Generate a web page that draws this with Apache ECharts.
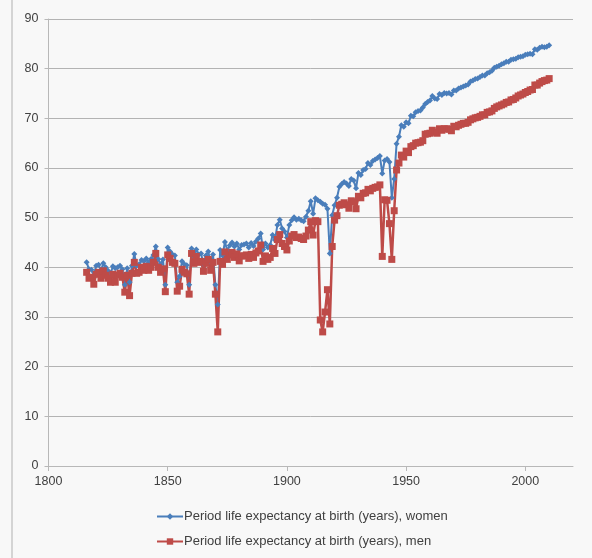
<!DOCTYPE html>
<html>
<head>
<meta charset="utf-8">
<script src="https://cdn.jsdelivr.net/npm/echarts@6/dist/echarts.min.js"></script>
<style>
html,body{margin:0;padding:0;background:#f8f8f8;}
#chart{width:592px;height:558px;}
</style>
</head>
<body>
<div id="chart"></div>
<script>
const startYear = 1816;
const womenValues = [
41.0,39.6,39.5,38.5,40.3,40.5,39.4,40.8,40.0,39.3,38.7,40.2,39.8,40.0,40.3,39.6,36.5,39.8,37.0,40.3,
42.7,40.3,40.6,41.5,41.2,41.8,41.0,41.7,42.5,44.2,41.7,40.6,41.6,36.5,44.0,43.2,42.6,42.4,37.0,38.2,
41.2,40.6,40.4,36.5,43.8,42.3,43.6,42.6,42.8,40.6,42.4,43.2,41.0,42.6,36.5,32.5,43.5,42.4,45.1,43.4,
44.4,45.0,44.2,44.8,43.6,44.5,44.6,44.8,44.0,44.9,44.3,45.2,45.8,46.8,43.6,44.8,44.0,44.5,46.5,45.5,
48.5,49.6,47.8,47.2,46.0,48.5,49.5,50.1,49.6,49.8,49.5,49.3,50.2,51.4,53.3,50.8,53.9,53.5,53.2,52.8,
52.6,51.8,42.8,50.5,52.5,54.0,56.2,56.8,57.2,56.9,56.4,57.8,57.5,55.9,59.0,58.6,59.6,59.8,61.0,60.6,
61.4,61.7,62.0,62.4,58.9,61.5,61.8,61.2,54.0,57.8,64.9,66.3,68.6,68.3,69.2,69.0,70.5,70.4,71.2,71.5,
71.6,72.2,72.9,73.3,73.6,74.5,74.0,73.9,74.9,74.7,75.1,75.0,75.1,74.8,75.6,75.6,76.0,76.2,76.4,76.6,
76.8,77.4,77.6,77.9,78.0,78.3,78.6,78.6,79.1,79.3,79.6,80.2,80.4,80.6,80.9,81.1,81.4,81.4,81.8,81.9,
82.0,82.3,82.4,82.5,82.8,82.9,83.0,82.9,83.9,83.8,84.2,84.4,84.3,84.4,84.7
];
const menValues = [
39.0,37.8,38.0,36.6,38.6,39.0,37.8,39.3,38.4,37.8,37.0,38.6,37.0,38.4,38.8,38.0,35.0,38.4,34.3,38.8,
41.0,38.8,39.0,40.0,39.4,40.2,39.4,40.0,41.0,42.8,40.0,39.0,39.7,35.1,42.5,41.8,41.0,40.8,35.2,36.2,
39.6,39.0,38.7,34.6,42.8,40.8,42.2,41.0,41.2,39.2,40.8,41.6,39.4,41.0,34.6,27.0,41.2,40.6,43.1,41.6,
42.5,43.0,42.0,42.7,41.3,42.3,42.3,42.5,41.8,42.6,42.0,42.9,43.3,44.5,41.2,42.3,41.6,42.0,43.8,42.8,
45.6,46.6,44.8,44.2,43.5,45.3,46.3,46.6,46.0,46.1,45.8,45.6,46.3,47.5,49.2,46.5,49.4,49.2,29.4,27.0,
31.0,35.5,28.6,44.2,49.5,50.4,52.5,52.7,53.0,52.6,51.9,53.4,53.2,51.8,54.3,54.0,54.9,55.0,55.7,55.4,
55.9,56.1,56.2,56.6,42.2,53.6,53.5,48.8,41.6,51.4,59.6,61.0,62.6,62.2,63.4,63.1,64.3,64.5,65.0,65.1,
65.2,65.5,66.8,66.9,67.0,67.6,67.2,67.0,67.9,67.6,67.9,67.9,67.8,67.5,68.4,68.3,68.6,68.8,69.0,69.0,
69.2,69.7,69.9,70.1,70.2,70.4,70.7,70.7,71.2,71.3,71.5,72.0,72.3,72.5,72.7,72.9,73.2,73.3,73.7,73.8,
74.1,74.5,74.7,74.9,75.2,75.4,75.7,75.8,76.7,76.7,77.1,77.4,77.6,77.7,78.0
];
const years = womenValues.map((_, i) => startYear + i);
const xTickLabels = [1800, 1850, 1900, 1950, 2000];
const seriesNames = ['Period life expectancy at birth (years), women', 'Period life expectancy at birth (years), men'];

const womenData = years.map((y, i) => [y, womenValues[i]]);
const menData = years.map((y, i) => [y, menValues[i]]);

const chart = echarts.init(document.getElementById('chart'), null, {renderer: 'canvas'});
const fontFamily = 'Liberation Sans, Arial, sans-serif';
chart.setOption({
  backgroundColor: '#f8f8f8',
  animation: false,
  grid: {left: 48.5, right: 19, top: 19, bottom: 92, containLabel: false},
  xAxis: {
    type: 'value', min: 1800, max: 2020, interval: 50,
    axisLine: {show: true, lineStyle: {color: '#b8b8b8', width: 1}},
    axisTick: {show: true, length: 5, customValues: xTickLabels, lineStyle: {color: '#b8b8b8'}},
    axisLabel: {customValues: xTickLabels, margin: 9, color: '#404040', fontSize: 12.5, fontFamily: fontFamily,
      formatter: v => (v % 50 === 0 && v <= 2000) ? String(v) : ''},
    splitLine: {show: false}
  },
  yAxis: {
    type: 'value', min: 0, max: 90, interval: 10,
    axisLine: {show: true, lineStyle: {color: '#b8b8b8', width: 1}},
    axisTick: {show: true, length: 4, lineStyle: {color: '#b8b8b8'}},
    axisLabel: {margin: 10, color: '#404040', fontSize: 12.5, fontFamily: fontFamily},
    splitLine: {show: true, lineStyle: {color: '#b3b3b3', width: 1}}
  },
  legend: {
    orient: 'vertical', left: 151, top: 505, itemGap: 12, itemWidth: 26, itemHeight: 8,
    textStyle: {color: '#404040', fontSize: 13, fontFamily: fontFamily, padding: [0,0,0,-4]},
    data: seriesNames
  },
  series: [
    {name: seriesNames[0], type: 'line', data: womenData, symbol: 'diamond', symbolSize: 6,
     itemStyle: {color: '#4a7ebb'}, lineStyle: {color: '#4a7ebb', width: 2}},
    {name: seriesNames[1], type: 'line', data: menData, symbol: 'rect', symbolSize: 7,
     itemStyle: {color: '#be4b48'}, lineStyle: {color: '#be4b48', width: 2.5}}
  ],
  graphic: [
    {type: 'line', shape: {x1: 12, y1: 0, x2: 12, y2: 558}, style: {stroke: '#c8c8c8', lineWidth: 1.5}}
  ]
});
</script>
</body>
</html>
